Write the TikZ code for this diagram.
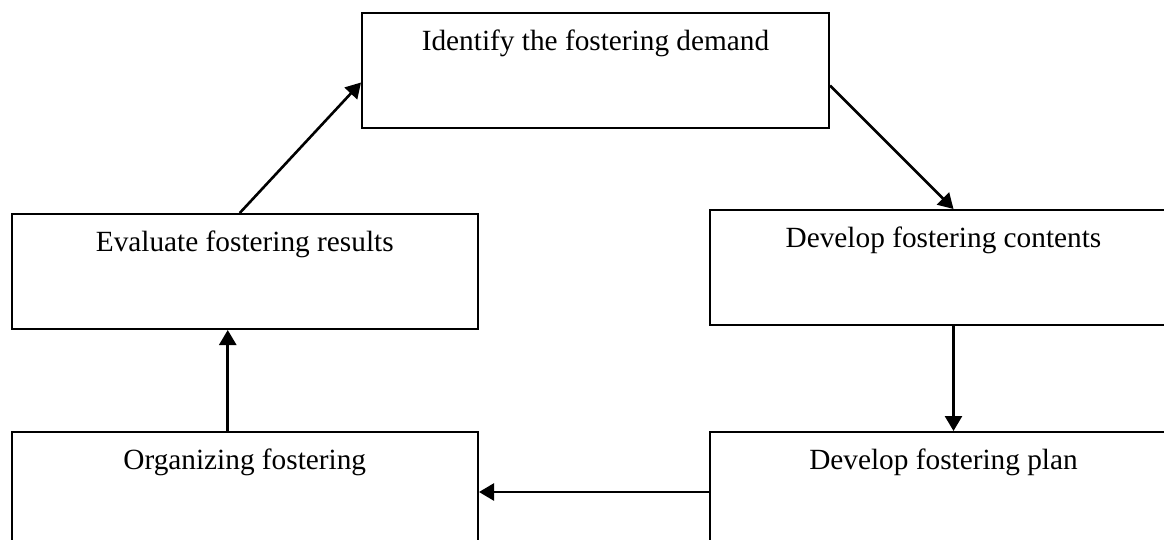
\documentclass[tikz,border=0pt]{standalone}
\usepackage{fontspec}
\setmainfont{Liberation Serif}
\usetikzlibrary{arrows.meta}

\begin{document}
\begin{tikzpicture}[x=1pt,y=-1pt,
  stagebox/.style={draw,line width=2pt,rectangle,anchor=north west,inner sep=0pt,
    minimum width=#1,text height=37pt,text depth=78pt,
    font=\fontsize{29.3}{35}\selectfont},
  flowarrow/.style={line width=2.6pt,-{Triangle[length=15pt,width=17pt]}}]

\clip (0,0) rectangle (1164,539);
\fill[white] (0,0) rectangle (1164,539);

% the five stages
\node[stagebox=467pt] (ident) at (361,12)   {Identify the fostering demand};
\node[stagebox=467pt] (cont)  at (709,209)  {Develop fostering contents};
\node[stagebox=467pt] (plan)  at (709,431)  {Develop fostering plan};
\node[stagebox=466.5pt] (org)  at (10.5,431) {Organizing fostering};
\node[stagebox=466.5pt] (eval) at (10.5,213) {Evaluate fostering results};

% the cycle
\draw[flowarrow] ([yshift=-15pt]ident.east) -- ([xshift=10pt]cont.north);
\draw[flowarrow] ([xshift=10pt]cont.south) -- ([xshift=10pt]plan.north);
\draw[flowarrow] ([yshift=-61pt]plan.north west) -- ([yshift=-61pt]org.north east);
\draw[flowarrow] ([xshift=-17pt]org.north) -- ([xshift=-17pt]eval.south);
\draw[flowarrow] ([xshift=-5pt]eval.north) -- ([yshift=-12pt]ident.west);

\end{tikzpicture}
\end{document}
